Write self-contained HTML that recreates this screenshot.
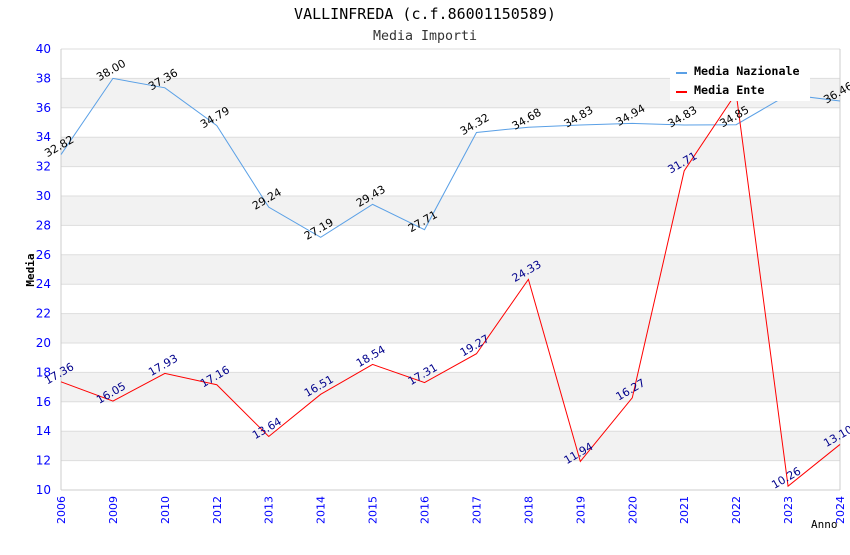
<!DOCTYPE html>
<html><head><meta charset="utf-8"><style>
body{margin:0;background:#fff;}
svg text{font-family:"DejaVu Sans","Liberation Sans",sans-serif;}
.mono{font-family:"DejaVu Sans Mono","Liberation Mono",monospace !important;}
</style></head><body>
<svg id="chart" width="850" height="550" xmlns="http://www.w3.org/2000/svg">
<text class="mono" x="425" y="19" text-anchor="middle" font-size="15" fill="#000">VALLINFREDA (c.f.86001150589)</text>
<text class="mono" x="425" y="40" text-anchor="middle" font-size="13.3" fill="#333">Media Importi</text>
<g id="bands"></g><g id="grid"></g><g id="axes"></g><g id="series"></g><g id="labels"></g>
<g>
<rect x="670" y="61" width="140" height="40" fill="#fff"/>
<line x1="676" y1="73" x2="687" y2="73" stroke="#5aa0e6" stroke-width="2"/>
<text class="mono" x="694" y="75" font-size="11.7" font-weight="bold">Media Nazionale</text>
<line x1="676" y1="92" x2="687" y2="92" stroke="#f00" stroke-width="2"/>
<text class="mono" x="694" y="94" font-size="11.7" font-weight="bold">Media Ente</text>
</g>
<text class="mono" transform="translate(34,270) rotate(-90)" text-anchor="middle" font-size="11" font-weight="bold">Media</text>
<text class="mono" x="811" y="528" font-size="11">Anno</text>
</svg>
<script>
const categories=["2006","2009","2010","2012","2013","2014","2015","2016","2017","2018","2019","2020","2021","2022","2023","2024"];
const nazionale=[32.82,38.00,37.36,34.79,29.24,27.19,29.43,27.71,34.32,34.68,34.83,34.94,34.83,34.85,36.9,36.46];
const ente=[17.36,16.05,17.93,17.16,13.64,16.51,18.54,17.31,19.27,24.33,11.94,16.27,31.71,37.00,10.26,13.10];
const yTicks=[10,12,14,16,18,20,22,24,26,28,30,32,34,36,38,40];
const NS="http://www.w3.org/2000/svg";
const X0=61,X1=840,Y0=490,Y1=49,YMIN=10,YMAX=40;
const xs=i=>X0+i*(X1-X0)/(categories.length-1);
const ys=v=>Y0-(v-YMIN)*(Y0-Y1)/(YMAX-YMIN);
function mk(tag,attrs,parent){const e=document.createElementNS(NS,tag);for(const k in attrs)e.setAttribute(k,attrs[k]);document.getElementById(parent).appendChild(e);return e;}
for(let i=0;i<yTicks.length-1;i++){
  if(i%2===1){const r=mk('rect',{x:X0,y:ys(yTicks[i+1]),width:X1-X0,height:ys(yTicks[i])-ys(yTicks[i+1]),fill:'#f2f2f2'},'bands');
  
  }
}
yTicks.forEach(v=>{
  const l=mk('line',{x1:X0,x2:X1,y1:ys(v),y2:ys(v),stroke:'#ddd'},'grid');
  
  
  const t=mk('text',{x:X0-10,y:ys(v)+4,'text-anchor':'end','font-size':12,fill:'#00f'},'axes');
  
  
  t.textContent=v;
});
mk('line',{x1:X0,x2:X0,y1:Y1,y2:Y0,stroke:'#ccc'},'axes');
mk('line',{x1:X1,x2:X1,y1:Y1,y2:Y0,stroke:'#ccc'},'axes');
mk('line',{x1:X0,x2:X1,y1:Y0,y2:Y0,stroke:'#ccc'},'axes');
categories.forEach((c,i)=>{
  const t=mk('text',{transform:`translate(${xs(i)+4},${Y0+6}) rotate(-90)`,'text-anchor':'end','font-size':11,fill:'#00f'},'axes');
  
  
  t.textContent=c;
});
function series(data,color,labelColor,name){
  const p=mk('polyline',{points:data.map((v,i)=>xs(i)+','+ys(v)).join(' '),fill:'none',stroke:color,'stroke-width':1},'series');
  
  
  data.forEach((v,i)=>{
    const t=mk('text',{transform:`translate(${xs(i)},${ys(v)-5}) rotate(-30)`,'text-anchor':'middle','font-size':11,fill:labelColor},'labels');
    
    
    t.textContent=v.toFixed(2);
  });
}
series(nazionale,'#5aa0e6','#000','nazionale');
series(ente,'#f00','#00008b','ente');
</script>
</body></html>
